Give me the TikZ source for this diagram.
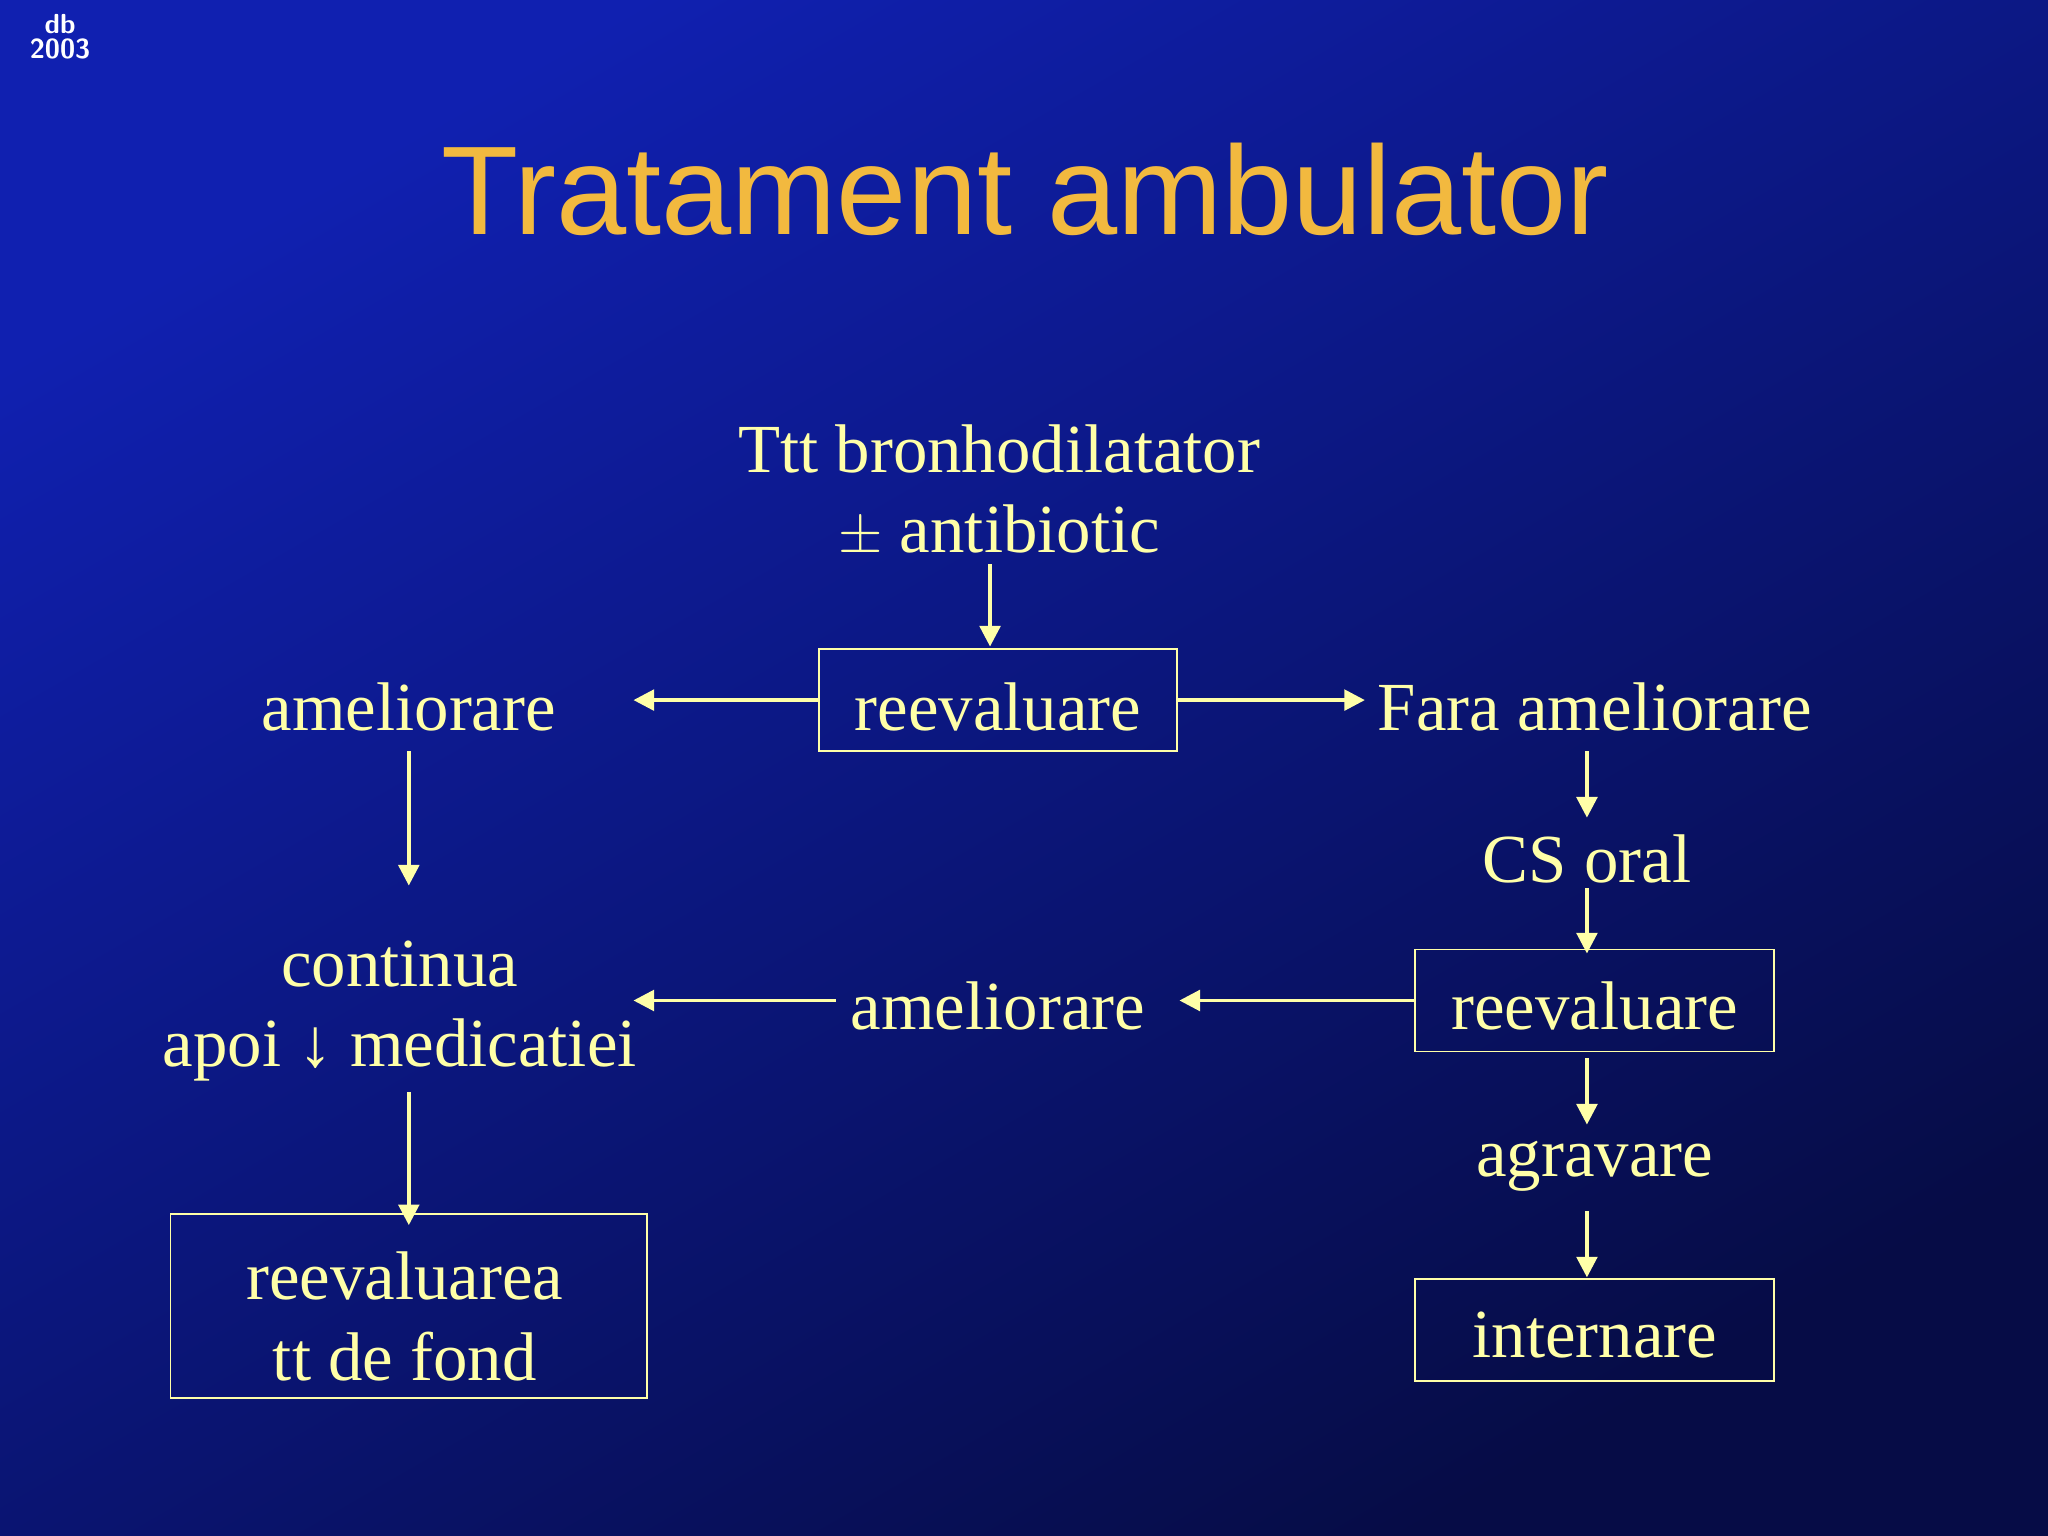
\documentclass[tikz,border=0pt]{standalone}
\usepackage{fontspec}
\setmainfont{Liberation Serif}
\newfontfamily\titlefont{Liberation Sans}
\usetikzlibrary{arrows.meta}
\definecolor{txt}{HTML}{FFFFA8}
\definecolor{ttl}{HTML}{F2B93F}
\definecolor{bgtop}{RGB}{16,32,176}
\definecolor{bgbot}{RGB}{6,12,70}
\begin{document}
\begin{tikzpicture}[x=0.02cm,y=-0.02cm,
  lab/.style={text=txt,font=\fontsize{30}{35}\selectfont,align=center,inner sep=0},
  bx/.style={draw=txt,line width=0.8pt},
  ar/.style={draw=txt,line width=1.6pt,-{Triangle[width=9pt,length=9pt]}}]
\shade[top color=bgtop,bottom color=bgbot,shading angle=30] (0,0) rectangle (1568,1176);
\useasboundingbox (0,0) rectangle (1568,1176);
\node[text=white,font=\sffamily\bfseries\fontsize{12}{11}\selectfont,align=center,inner sep=0] (db) at (46,28) {db\\2003};
\node[text=ttl,font=\titlefont\fontsize{55}{65}\selectfont,inner sep=0] (title) at (785,145) {Tratament ambulator};
\node[lab] (ttt) at (765,376) {Ttt bronhodilatator\\$\pm$ antibiotic};
\node[bx,minimum width=274*0.02cm,minimum height=78*0.02cm] (r1) at (764,536) {};
\node[lab] at (764,541) {reevaluare};
\node[lab] (am1) at (313,541) {ameliorare};
\node[lab] (fara) at (1221,541) {Fara ameliorare};
\node[lab] (cs) at (1215,658) {CS oral};
\node[bx,minimum width=275*0.02cm,minimum height=78*0.02cm] (r2) at (1221,766) {};
\node[lab] at (1221,770) {reevaluare};
\node[lab] (am2) at (764,770) {ameliorare};
\node[lab] (cont) at (306,774) {continua\\apoi ↓ medicatiei};
\node[bx,minimum width=365*0.02cm,minimum height=141*0.02cm] (fond) at (313,1000) {};
\node[lab] at (310,1008) {reevaluarea\\tt de fond};
\node[lab] (agr) at (1221,893) {agravare};
\node[bx,minimum width=275*0.02cm,minimum height=78*0.02cm] (int) at (1221,1018) {};
\node[lab] at (1221,1022) {internare};
\coordinate (a1s) at (758,432); \coordinate (a1e) at (758,495);
\draw[ar] (a1s) -- (a1e);
\coordinate (a2e) at (485,536); \draw[ar] (r1.west) -- (a2e);
\coordinate (a3e) at (1045,536); \draw[ar] (r1.east) -- (a3e);
\coordinate (a4s) at (1215,575); \coordinate (a4e) at (1215,626); \draw[ar] (a4s) -- (a4e);
\coordinate (a5s) at (1215,680); \coordinate (a5e) at (1215,730); \draw[ar] (a5s) -- (a5e);
\coordinate (a6e) at (903,766); \draw[ar] (r2.west) -- (a6e);
\coordinate (a7s) at (640,766); \coordinate (a7e) at (485,766); \draw[ar] (a7s) -- (a7e);
\coordinate (a8s) at (313,575); \coordinate (a8e) at (313,678); \draw[ar] (a8s) -- (a8e);
\coordinate (a9s) at (313,836); \coordinate (a9e) at (313,938); \draw[ar] (a9s) -- (a9e);
\coordinate (a10s) at (1215,810); \coordinate (a10e) at (1215,861); \draw[ar] (a10s) -- (a10e);
\coordinate (a11s) at (1215,927); \coordinate (a11e) at (1215,978); \draw[ar] (a11s) -- (a11e);
\end{tikzpicture}
\end{document}
